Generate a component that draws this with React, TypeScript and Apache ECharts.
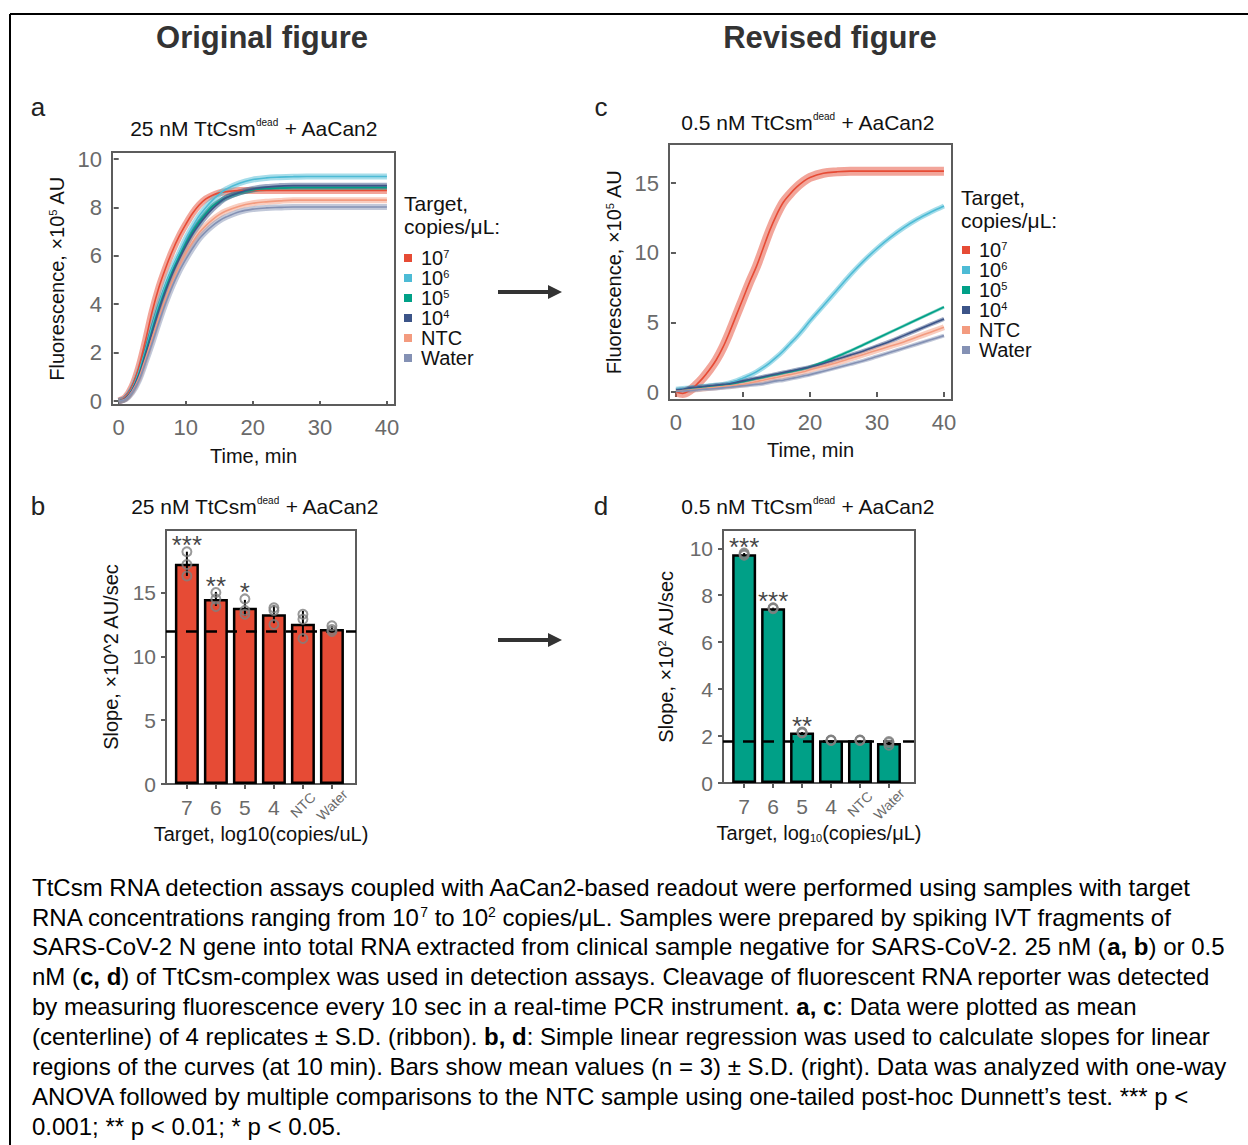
import React, { useEffect, useRef } from "react";
import * as echarts from "echarts";

const FONT = "'Liberation Sans', Arial, Helvetica, sans-serif";
const TICK_COLOR = "#6a6a6a";
const BOX_COLOR = "#5c5c5c";
const TEXT_COLOR = "#111111";

// ---------- legend groups ----------
const groupNames = ["10^7", "10^6", "10^5", "10^4", "NTC", "Water"];
const groupColors = ["#E64B35", "#4DBBD5", "#00A087", "#3C5488", "#F39B7F", "#8491B4"];

// ---------- panel a: 25 nM, fluorescence (x10^5 AU) vs time (min) ----------
const timeA = [0, 1, 2, 3, 4, 5, 6, 7, 8, 9, 10, 11, 12, 13, 14, 15, 16, 18, 20, 22, 24, 26, 28, 30, 32, 34, 36, 38, 40];
const a_1e7 = [0, 0.15, 0.6, 1.4, 2.5, 3.7, 4.7, 5.5, 6.2, 6.8, 7.3, 7.75, 8.1, 8.35, 8.5, 8.6, 8.65, 8.7, 8.7, 8.7, 8.7, 8.7, 8.7, 8.7, 8.7, 8.7, 8.7, 8.7, 8.7];
const a_1e6 = [0, 0.1, 0.5, 1.2, 2.1, 3.1, 4.0, 4.8, 5.5, 6.1, 6.7, 7.2, 7.65, 8.0, 8.3, 8.55, 8.75, 9.0, 9.15, 9.22, 9.25, 9.27, 9.28, 9.28, 9.28, 9.28, 9.28, 9.28, 9.28];
const a_1e5 = [0, 0.1, 0.45, 1.1, 2.0, 2.95, 3.85, 4.65, 5.35, 5.95, 6.5, 7.0, 7.4, 7.75, 8.05, 8.25, 8.4, 8.6, 8.72, 8.78, 8.8, 8.82, 8.82, 8.82, 8.82, 8.82, 8.82, 8.82, 8.82];
const a_1e4 = [0, 0.1, 0.45, 1.05, 1.9, 2.85, 3.75, 4.55, 5.25, 5.85, 6.4, 6.9, 7.3, 7.65, 7.95, 8.2, 8.4, 8.62, 8.76, 8.84, 8.88, 8.9, 8.9, 8.9, 8.9, 8.9, 8.9, 8.9, 8.9];
const a_ntc = [0, 0.08, 0.4, 0.95, 1.75, 2.6, 3.45, 4.25, 4.95, 5.55, 6.1, 6.55, 6.95, 7.25, 7.5, 7.7, 7.85, 8.05, 8.17, 8.23, 8.27, 8.3, 8.3, 8.3, 8.3, 8.3, 8.3, 8.3, 8.3];
const a_water = [0, 0.07, 0.35, 0.85, 1.6, 2.4, 3.25, 4.05, 4.75, 5.35, 5.85, 6.3, 6.7, 7.0, 7.25, 7.45, 7.6, 7.82, 7.93, 7.98, 8.0, 8.02, 8.02, 8.02, 8.02, 8.02, 8.02, 8.02, 8.02];

// ---------- panel c: 0.5 nM ----------
const timeC = [0, 1, 2, 3, 4, 5, 6, 7, 8, 9, 10, 11, 12, 13, 14, 15, 16, 17, 18, 19, 20, 22, 24, 26, 28, 30, 32, 34, 36, 38, 40];
const c_1e7 = [0, -0.1, 0.1, 0.5, 1.0, 1.6, 2.3, 3.2, 4.3, 5.5, 6.7, 7.9, 9.0, 10.3, 11.6, 12.7, 13.6, 14.2, 14.7, 15.1, 15.4, 15.7, 15.8, 15.85, 15.85, 15.85, 15.85, 15.85, 15.85, 15.85, 15.85];
const c_1e6 = [0.2, 0.25, 0.3, 0.35, 0.4, 0.45, 0.5, 0.55, 0.65, 0.8, 1.0, 1.2, 1.45, 1.75, 2.1, 2.5, 2.95, 3.45, 3.95, 4.5, 5.1, 6.2, 7.3, 8.4, 9.4, 10.3, 11.1, 11.8, 12.4, 12.9, 13.35];
const c_1e5 = [0.1, 0.15, 0.25, 0.3, 0.35, 0.4, 0.45, 0.5, 0.55, 0.65, 0.75, 0.85, 0.95, 1.05, 1.15, 1.25, 1.35, 1.45, 1.55, 1.65, 1.8, 2.15, 2.55, 2.95, 3.4, 3.85, 4.3, 4.75, 5.2, 5.65, 6.1];
const c_1e4 = [0.15, 0.2, 0.3, 0.35, 0.4, 0.45, 0.5, 0.55, 0.6, 0.7, 0.8, 0.9, 1.0, 1.1, 1.2, 1.3, 1.4, 1.5, 1.6, 1.7, 1.8, 2.05, 2.35, 2.65, 2.95, 3.3, 3.65, 4.05, 4.45, 4.85, 5.25];
const c_ntc = [0.05, 0.1, 0.15, 0.2, 0.25, 0.3, 0.35, 0.4, 0.45, 0.5, 0.55, 0.65, 0.75, 0.85, 0.95, 1.05, 1.15, 1.25, 1.35, 1.45, 1.6, 1.85, 2.1, 2.4, 2.7, 3.0, 3.3, 3.6, 3.95, 4.3, 4.65];
const c_water = [0.05, 0.08, 0.1, 0.15, 0.2, 0.22, 0.25, 0.3, 0.35, 0.4, 0.45, 0.5, 0.55, 0.6, 0.7, 0.8, 0.85, 0.95, 1.05, 1.15, 1.25, 1.5, 1.75, 2.0, 2.25, 2.55, 2.85, 3.15, 3.45, 3.75, 4.05];

const timeTicks = [0, 10, 20, 30, 40];
const ticksA = [0, 2, 4, 6, 8, 10];
const ticksC = [0, 5, 10, 15];

// ---------- panels b, d: slopes ----------
const barCategories = ["7", "6", "5", "4", "NTC", "Water"];
const slopeB = [17.25, 14.5, 13.8, 13.3, 12.55, 12.15];
const pointsB = [
  [18.2, 17.2, 16.3],
  [15.0, 14.5, 13.9],
  [14.5, 13.6, 13.3],
  [13.8, 13.6, 12.5],
  [13.3, 12.9, 11.4],
  [12.4, 12.1, 11.95],
];
const starsB = ["***", "**", "*", "", "", ""];
const refLineB = 12.0;
const ticksB = [0, 5, 10, 15];

const slopeD = [9.75, 7.45, 2.15, 1.82, 1.82, 1.7];
const pointsD = [
  [9.8, 9.75, 9.7],
  [7.47, 7.45, 7.43],
  [2.17, 2.15, 2.13],
  [1.83, 1.82, 1.81],
  [1.83, 1.82, 1.81],
  [1.77, 1.72, 1.61],
];
const starsD = ["***", "***", "**", "", "", ""];
const refLineD = 1.8;
const ticksD = [0, 2, 4, 6, 8, 10];

const captionLines = [
  "TtCsm RNA detection assays coupled with AaCan2-based readout were performed using samples with target",
  "RNA concentrations ranging from 10{sup|7} to 10{sup|2} copies/μL. Samples were prepared by spiking IVT fragments of",
  "SARS-CoV-2 N gene into total RNA extracted from clinical sample negative for SARS-CoV-2. 25 nM ({b|a, b}) or 0.5",
  "nM ({b|c, d}) of TtCsm-complex was used in detection assays. Cleavage of fluorescent RNA reporter was detected",
  "by measuring fluorescence every 10 sec in a real-time PCR instrument. {b|a, c}: Data were plotted as mean",
  "(centerline) of 4 replicates ± S.D. (ribbon). {b|b, d}: Simple linear regression was used to calculate slopes for linear",
  "regions of the curves (at 10 min). Bars show mean values (n = 3) ± S.D. (right). Data was analyzed with one-way",
  "ANOVA followed by multiple comparisons to the NTC sample using one-tailed post-hoc Dunnett’s test. *** p <",
  "0.001; ** p < 0.01; * p < 0.05.",
];

// ---------- helpers ----------
const sdOf = (arr: number[]) => {
  const m = arr.reduce((s, v) => s + v, 0) / arr.length;
  return Math.sqrt(arr.reduce((s, v) => s + (v - m) * (v - m), 0) / (arr.length - 1));
};
const zip = (xs: number[], ys: number[]) => xs.map((x, i) => [x, ys[i]]);
const legendFormatter = (name: string) => (name.indexOf("10^") === 0 ? `10{sup|${name.slice(3)}}` : name);

function valueAxis(gridIndex: number, min: number, max: number, ticks: number[], fontSize: number, margin: number, extra: any = {}) {
  return {
    type: "value",
    gridIndex,
    min,
    max,
    axisLine: { show: false },
    splitLine: { show: false },
    axisTick: { show: true, length: 5, customValues: ticks, lineStyle: { color: BOX_COLOR, width: 2 } },
    axisLabel: { customValues: ticks, fontSize, color: TICK_COLOR, fontFamily: FONT, margin },
    nameTextStyle: {
      fontSize: 20,
      color: TEXT_COLOR,
      fontFamily: FONT,
      rich: {
        sup: { fontSize: 11, verticalAlign: "top", fontFamily: FONT, color: TEXT_COLOR },
        sub: { fontSize: 11, verticalAlign: "bottom", fontFamily: FONT, color: TEXT_COLOR },
      },
    },
    nameLocation: "middle",
    ...extra,
  };
}

function curveSeries(xi: number, yi: number, time: number[], curves: number[][], ribbonWidths: number[]) {
  const out: any[] = [];
  curves.forEach((vals, g) => {
    out.push({
      type: "line",
      name: groupNames[g] + " ribbon",
      xAxisIndex: xi,
      yAxisIndex: yi,
      data: zip(time, vals),
      smooth: 0.35,
      symbol: "none",
      silent: true,
      lineStyle: { color: groupColors[g], width: ribbonWidths[g], opacity: 0.5 },
      itemStyle: { color: groupColors[g] },
      z: 2,
    });
  });
  curves.forEach((vals, g) => {
    out.push({
      type: "line",
      name: groupNames[g],
      xAxisIndex: xi,
      yAxisIndex: yi,
      data: zip(time, vals),
      smooth: 0.35,
      symbol: "none",
      silent: true,
      lineStyle: { color: groupColors[g], width: 1.6 },
      itemStyle: { color: groupColors[g] },
      z: 3,
    });
  });
  return out;
}

function barSeries(xi: number, yi: number, values: number[], points: number[][], stars: string[], refLine: number, color: string) {
  const idx = values.map((_, i) => i + 1);
  return [
    {
      type: "bar",
      name: "bars" + xi,
      xAxisIndex: xi,
      yAxisIndex: yi,
      data: zip(idx, values),
      barWidth: 24,
      silent: true,
      itemStyle: { color, borderColor: "#000", borderWidth: 2.5 },
      markLine: {
        symbol: "none",
        silent: true,
        label: { show: false },
        lineStyle: { type: [11, 9], color: "#000", width: 2.5 },
        data: [{ yAxis: refLine }],
      },
      z: 2,
    },
    {
      type: "custom",
      name: "err" + xi,
      xAxisIndex: xi,
      yAxisIndex: yi,
      silent: true,
      data: values.map((v, i) => [i + 1, v - sdOf(points[i]), v + sdOf(points[i])]),
      encode: { x: 0, y: [1, 2] },
      renderItem: (params: any, api: any) => {
        const p1 = api.coord([api.value(0), api.value(1)]);
        const p2 = api.coord([api.value(0), api.value(2)]);
        return {
          type: "line",
          shape: { x1: p1[0], y1: p1[1], x2: p2[0], y2: p2[1] },
          style: { stroke: "#000", lineWidth: 2 },
        };
      },
      z: 4,
    },
    {
      type: "scatter",
      name: "pts" + xi,
      xAxisIndex: xi,
      yAxisIndex: yi,
      silent: true,
      data: points.flatMap((arr, i) => arr.map((v) => [i + 1, v])),
      symbol: "circle",
      symbolSize: 9,
      itemStyle: { color: "rgba(0,0,0,0)", borderColor: "#808080", borderWidth: 2 },
      z: 5,
    },
    {
      type: "scatter",
      name: "stars" + xi,
      xAxisIndex: xi,
      yAxisIndex: yi,
      silent: true,
      data: points.map((arr, i) => [i + 1, Math.max(...arr)]),
      symbolSize: 1,
      itemStyle: { color: "rgba(0,0,0,0)" },
      label: {
        show: true,
        position: "top",
        distance: -7,
        formatter: (p: any) => stars[p.dataIndex],
        fontSize: 26,
        color: "#111",
        fontFamily: FONT,
      },
      z: 6,
    },
  ];
}

function txt(text: string, x: number, y: number, fontSize: number, opts: any = {}) {
  const align = opts.align || "center";
  return {
    type: "text",
    x,
    y,
    silent: true,
    rotation: opts.rotation || 0,
    style: {
      text,
      fontSize,
      fontFamily: FONT,
      fontWeight: opts.bold ? "bold" : "normal",
      fill: opts.color || TEXT_COLOR,
      textAlign: align,
      align,
      textVerticalAlign: "middle",
      verticalAlign: "middle",
      rich: {
        sup: { fontSize: opts.supSize || 10, verticalAlign: "top", fontFamily: FONT, fill: opts.color || TEXT_COLOR },
        b: { fontSize, fontWeight: "bold", fontFamily: FONT, fill: opts.color || TEXT_COLOR },
      },
    },
  };
}

function legendFor(left: number, top: number) {
  return {
    show: true,
    orient: "vertical",
    left,
    top,
    itemWidth: 8,
    itemHeight: 8,
    itemGap: 0,
    icon: "rect",
    selectedMode: false,
    data: groupNames,
    formatter: legendFormatter,
    textStyle: {
      fontSize: 20,
      fontFamily: FONT,
      color: TEXT_COLOR,
      lineHeight: 20,
      padding: [0, 0, 0, 4],
      rich: { sup: { fontSize: 11, verticalAlign: "top", fontFamily: FONT, color: TEXT_COLOR, lineHeight: 20 } },
    },
  };
}

function rotatedCategoryAxis(gridIndex: number, min: number, max: number) {
  return valueAxis(gridIndex, min, max, [], 14, 21, {
    position: "bottom",
    offset: 0,
    axisTick: { show: false },
    axisLabel: {
      customValues: [5, 6],
      fontSize: 14,
      color: TICK_COLOR,
      fontFamily: FONT,
      margin: 21,
      rotate: 45,
      align: "center",
      verticalAlign: "middle",
      formatter: (v: number) => barCategories[v - 1],
    },
  });
}

function buildOption(): any {
  const gridBase = { show: true, borderColor: BOX_COLOR, borderWidth: 2, backgroundColor: "transparent" };
  const graphics: any[] = [
    // frame
    { type: "line", silent: true, shape: { x1: 10, y1: 14, x2: 1248, y2: 14 }, style: { stroke: "#000", lineWidth: 2 } },
    { type: "line", silent: true, shape: { x1: 10, y1: 14, x2: 10, y2: 1145 }, style: { stroke: "#000", lineWidth: 2 } },
    // headers
    txt("Original figure", 262, 37, 31, { bold: true, color: "#333" }),
    txt("Revised figure", 830, 37, 31, { bold: true, color: "#333" }),
    // panel letters
    txt("a", 38, 107, 26, { color: "#222" }),
    txt("c", 601, 107, 26, { color: "#222" }),
    txt("b", 38, 506, 26, { color: "#222" }),
    txt("d", 601, 506, 26, { color: "#222" }),
    // panel titles
    txt("25 nM TtCsm{sup|dead} + AaCan2", 254, 128, 21),
    txt("0.5 nM TtCsm{sup|dead} + AaCan2", 808, 122, 21),
    txt("25 nM TtCsm{sup|dead} + AaCan2", 255, 506, 21),
    txt("0.5 nM TtCsm{sup|dead} + AaCan2", 808, 506, 21),
    // legend titles
    txt("Target,", 404, 203, 21, { align: "left" }),
    txt("copies/μL:", 404, 226, 21, { align: "left" }),
    txt("Target,", 961, 197, 21, { align: "left" }),
    txt("copies/μL:", 961, 220, 21, { align: "left" }),
    // arrows
    { type: "line", silent: true, shape: { x1: 498, y1: 292, x2: 550, y2: 292 }, style: { stroke: "#333", lineWidth: 4 } },
    { type: "polygon", silent: true, shape: { points: [[548, 285], [562, 292], [548, 299]] }, style: { fill: "#333" } },
    { type: "line", silent: true, shape: { x1: 498, y1: 640, x2: 550, y2: 640 }, style: { stroke: "#333", lineWidth: 4 } },
    { type: "polygon", silent: true, shape: { points: [[548, 633], [562, 640], [548, 647]] }, style: { fill: "#333" } },
  ];
  const captionY = [887, 917, 946, 976, 1006, 1036, 1066, 1096, 1126];
  captionLines.forEach((line, i) => {
    graphics.push(txt(line, 32, captionY[i], 24, { align: "left", color: "#000", supSize: 14 }));
  });

  return {
    animation: false,
    backgroundColor: "#fff",
    textStyle: { fontFamily: FONT },
    grid: [
      { ...gridBase, left: 112, top: 152, width: 283, height: 253 },
      { ...gridBase, left: 669, top: 144, width: 283, height: 256 },
      { ...gridBase, left: 166, top: 530, width: 190, height: 254 },
      { ...gridBase, left: 723, top: 530, width: 192, height: 253 },
    ],
    xAxis: [
      valueAxis(0, -1, 41.2, timeTicks, 22, 11, { name: "Time, min", nameGap: 41, position: "bottom" }),
      valueAxis(1, -1.04, 41.2, timeTicks, 22, 11, { name: "Time, min", nameGap: 40, position: "bottom" }),
      valueAxis(2, 0.28, 6.83, [1, 2, 3, 4, 5, 6], 21, 14, {
        position: "bottom",
        axisLabel: { customValues: [1, 2, 3, 4], fontSize: 21, color: TICK_COLOR, fontFamily: FONT, margin: 13, formatter: (v: number) => barCategories[v - 1] },
        name: "Target, log10(copies/uL)",
        nameGap: 40,
      }),
      rotatedCategoryAxis(2, 0.28, 6.83),
      valueAxis(3, 0.27, 6.9, [1, 2, 3, 4, 5, 6], 21, 14, {
        position: "bottom",
        axisLabel: { customValues: [1, 2, 3, 4], fontSize: 21, color: TICK_COLOR, fontFamily: FONT, margin: 13, formatter: (v: number) => barCategories[v - 1] },
        name: "Target, log{sub|10}(copies/μL)",
        nameGap: 40,
      }),
      rotatedCategoryAxis(3, 0.27, 6.9),
    ],
    yAxis: [
      valueAxis(0, -0.165, 10.29, ticksA, 22, 10, { name: "Fluorescence, ×10{sup|5} AU", nameGap: 45, position: "left" }),
      valueAxis(1, -0.57, 17.8, ticksC, 22, 10, { name: "Fluorescence, ×10{sup|5} AU", nameGap: 45, position: "left" }),
      valueAxis(2, 0, 19.9, ticksB, 21, 10, { name: "Slope, ×10^2 AU/sec", nameGap: 45, position: "left" }),
      valueAxis(3, 0, 10.78, ticksD, 21, 10, { name: "Slope, ×10{sup|2} AU/sec", nameGap: 47, position: "left" }),
    ],
    legend: [legendFor(399, 243), legendFor(957, 235)],
    graphic: graphics,
    series: [
      ...curveSeries(0, 0, timeA, [a_1e7, a_1e6, a_1e5, a_1e4, a_ntc, a_water], [7, 6, 5, 6, 6, 6]),
      ...curveSeries(1, 1, timeC, [c_1e7, c_1e6, c_1e5, c_1e4, c_ntc, c_water], [9, 5, 3, 4, 6, 4]),
      ...barSeries(2, 2, slopeB, pointsB, starsB, refLineB, "#E64B35"),
      ...barSeries(4, 3, slopeD, pointsD, starsD, refLineD, "#00A087"),
    ],
  };
}

export default function App() {
  const ref = useRef<HTMLDivElement>(null);
  useEffect(() => {
    if (!ref.current) return;
    const chart = echarts.init(ref.current, null, { renderer: "svg" });
    chart.setOption(buildOption());
    return () => chart.dispose();
  }, []);
  return (
    <div
      ref={ref}
      style={{ position: "fixed", left: 0, top: 0, width: 1248, height: 1145, background: "#fff" }}
    />
  );
}
